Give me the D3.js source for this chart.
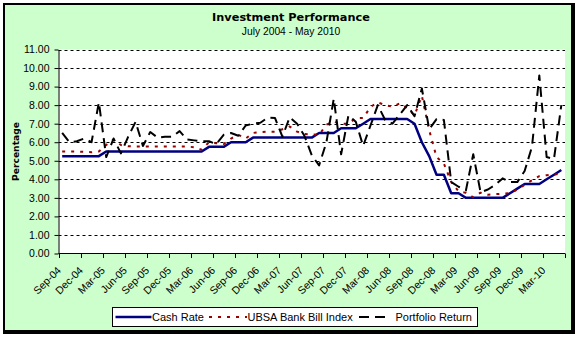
<!DOCTYPE html>
<html><head><meta charset="utf-8">
<script src="https://cdn.jsdelivr.net/npm/d3@7"></script>
<style>html,body{margin:0;padding:0;background:#fff;} svg{display:block}</style>
</head><body>
<svg id="chart" width="579" height="338"></svg>
<script>
const categories = [
"Sep-04","Oct-04","Nov-04","Dec-04",
"Jan-05","Feb-05","Mar-05","Apr-05","May-05","Jun-05","Jul-05","Aug-05","Sep-05","Oct-05","Nov-05","Dec-05",
"Jan-06","Feb-06","Mar-06","Apr-06","May-06","Jun-06","Jul-06","Aug-06","Sep-06","Oct-06","Nov-06","Dec-06",
"Jan-07","Feb-07","Mar-07","Apr-07","May-07","Jun-07","Jul-07","Aug-07","Sep-07","Oct-07","Nov-07","Dec-07",
"Jan-08","Feb-08","Mar-08","Apr-08","May-08","Jun-08","Jul-08","Aug-08","Sep-08","Oct-08","Nov-08","Dec-08",
"Jan-09","Feb-09","Mar-09","Apr-09","May-09","Jun-09","Jul-09","Aug-09","Sep-09","Oct-09","Nov-09","Dec-09",
"Jan-10","Feb-10","Mar-10","Apr-10","May-10"];

const cashRate = [
5.25,5.25,5.25,5.25,5.25,5.25,5.5,5.5,5.5,5.5,
5.5,5.5,5.5,5.5,5.5,5.5,5.5,5.5,5.5,5.5,
5.75,5.75,5.75,6.0,6.0,6.0,6.25,6.25,6.25,6.25,
6.25,6.25,6.25,6.25,6.25,6.5,6.5,6.5,6.75,6.75,
6.75,7.0,7.25,7.25,7.25,7.25,7.25,7.25,7.0,6.0,
5.25,4.25,4.25,3.25,3.25,3.0,3.0,3.0,3.0,3.0,
3.0,3.25,3.5,3.75,3.75,3.75,4.0,4.25,4.5];

const bankBillIndex = [
5.5,5.5,5.5,5.48,5.46,5.5,5.85,6.15,5.85,5.78,
5.77,5.77,5.77,5.77,5.77,5.77,5.77,5.77,5.73,5.6,
6.0,5.95,5.9,6.2,6.4,6.2,6.5,6.55,6.57,6.57,
6.7,6.85,6.57,6.45,6.42,6.4,6.95,7.1,7.0,7.0,
7.3,7.3,7.9,8.15,8.0,7.92,8.1,7.85,7.45,8.5,
6.65,5.2,4.85,3.85,3.35,3.27,3.03,3.28,3.17,3.2,
3.22,3.25,3.45,3.7,3.95,4.17,4.22,4.25,4.33];

const portfolioReturn = [
6.5,6.0,6.05,6.2,6.0,8.15,5.2,6.2,5.4,6.3,
7.1,5.8,6.55,6.25,6.3,6.3,6.6,6.15,6.1,6.05,
6.05,5.9,6.4,6.5,6.35,6.9,7.0,7.05,7.33,7.3,
6.3,7.35,7.0,6.35,5.3,4.75,6.0,8.35,5.35,7.45,
7.1,5.8,6.9,8.0,7.2,7.0,7.5,8.0,7.4,8.9,
6.7,7.25,7.2,3.85,3.6,3.4,5.35,3.3,3.45,3.7,
4.05,3.85,3.85,4.45,5.75,9.6,5.2,5.1,8.0];

const yTickValues = [0,1,2,3,4,5,6,7,8,9,10,11];
const seriesNames = ["Cash Rate","UBSA Bank Bill Index","Portfolio Return"];
const titleText = "Investment Performance";
const subtitleText = "July 2004 - May 2010";
const yAxisTitle = "Percentage";

const series = [
  {name: seriesNames[0], values: cashRate, color: "#000080", width: 2.5, dash: null},
  {name: seriesNames[1], values: bankBillIndex, color: "#990000", width: 2, dash: "3,6"},
  {name: seriesNames[2], values: portfolioReturn, color: "#000000", width: 2, dash: "10,6"}
];

const svg = d3.select("#chart");
const L = 58.5, R = 565, T = 49.5, B = 253.5;

// frame
svg.append("rect").attr("x",3).attr("y",3).attr("width",572).attr("height",331).attr("fill","#000");
svg.append("rect").attr("x",5).attr("y",5).attr("width",566).attr("height",325).attr("fill","#CCFFCC");

const x = d3.scaleBand().domain(categories).range([L, R]).padding(0);
const y = d3.scaleLinear().domain([0, 11]).range([B, T]);
const cx = d => x(d) + x.bandwidth()/2;

// plot area
svg.append("rect").attr("x",L).attr("y",T).attr("width",R-L).attr("height",B-T).attr("fill","#fff");

// gridlines
svg.append("g").selectAll("line").data(yTickValues.filter(v => v > 0)).join("line")
  .attr("x1", L).attr("x2", R)
  .attr("y1", d => Math.round(y(d)) + 0.5).attr("y2", d => Math.round(y(d)) + 0.5)
  .attr("stroke", "#000").attr("stroke-width", 1).attr("stroke-dasharray", "3,3");

// y axis
const yAxis = d3.axisLeft(y).tickValues(yTickValues).tickFormat(d3.format(".2f")).tickSize(4).tickSizeOuter(0).tickPadding(5);
const yg = svg.append("g").attr("transform", `translate(${L},0)`).call(yAxis);
yg.selectAll("text").attr("font-family","'Liberation Sans', Arial, sans-serif").attr("font-size","10.5px").attr("fill","#000");
yg.selectAll("line,path").attr("stroke","#000");

// x axis
const labelCats = categories.filter((c, i) => i % 3 === 0);
svg.append("line").attr("x1", L).attr("x2", R).attr("y1", B).attr("y2", B).attr("stroke","#000");
const tickXs = labelCats.map(c => x(c)).concat([R]);
svg.append("g").selectAll("line").data(tickXs).join("line")
  .attr("x1", d => Math.round(d)+0.5).attr("x2", d => Math.round(d)+0.5)
  .attr("y1", B).attr("y2", B + 4.5).attr("stroke","#000");
svg.append("g").selectAll("text").data(labelCats).join("text")
  .attr("transform", d => `translate(${cx(d) - 0.5},${B + 17.5}) rotate(-45)`)
  .attr("text-anchor","end")
  .attr("font-family","'Liberation Sans', Arial, sans-serif").attr("font-size","10.5px").attr("fill","#000")
  .text(d => d);

// series
const line = d3.line().x((v, i) => cx(categories[i])).y(v => y(v));
series.forEach(s => {
  svg.append("path").datum(s.values).attr("d", line)
    .attr("fill","none").attr("stroke", s.color).attr("stroke-width", s.width)
    .attr("stroke-dasharray", s.dash).attr("stroke-linejoin","round");
});

// titles
svg.append("text").attr("x", 291).attr("y", 20.7).attr("text-anchor","middle")
  .attr("font-family","'DejaVu Sans', sans-serif").attr("font-weight","bold").attr("font-size","11.3px").text(titleText);
svg.append("text").attr("x", 291).attr("y", 34.5).attr("text-anchor","middle")
  .attr("font-family","'Liberation Sans', Arial, sans-serif").attr("font-size","10.3px").text(subtitleText);
svg.append("text").attr("transform","translate(19.3,151.5) rotate(-90)").attr("text-anchor","middle")
  .attr("font-family","'DejaVu Sans', sans-serif").attr("font-weight","bold").attr("font-size","9.2px").text(yAxisTitle);

// legend
const lg = svg.append("g");
lg.append("rect").attr("x",112.5).attr("y",307.5).attr("width",365).attr("height",19).attr("fill","#fff").attr("stroke","#000");
const legendItems = [
  {s: series[0], x1: 115.5, x2: 151.5, tx: 152},
  {s: series[1], x1: 209, x2: 247, tx: 247.5},
  {s: series[2], x1: 359, x2: 391, tx: 395.5}
];
legendItems.forEach(it => {
  lg.append("line").attr("x1", it.x1).attr("x2", it.x2).attr("y1", 317).attr("y2", 317)
    .attr("stroke", it.s.color).attr("stroke-width", it.s.width).attr("stroke-dasharray", it.s.dash);
  lg.append("text").attr("x", it.tx).attr("y", 321)
    .attr("font-family","'Liberation Sans', Arial, sans-serif").attr("font-size","11px").text(it.s.name);
});
</script>
</body></html>
